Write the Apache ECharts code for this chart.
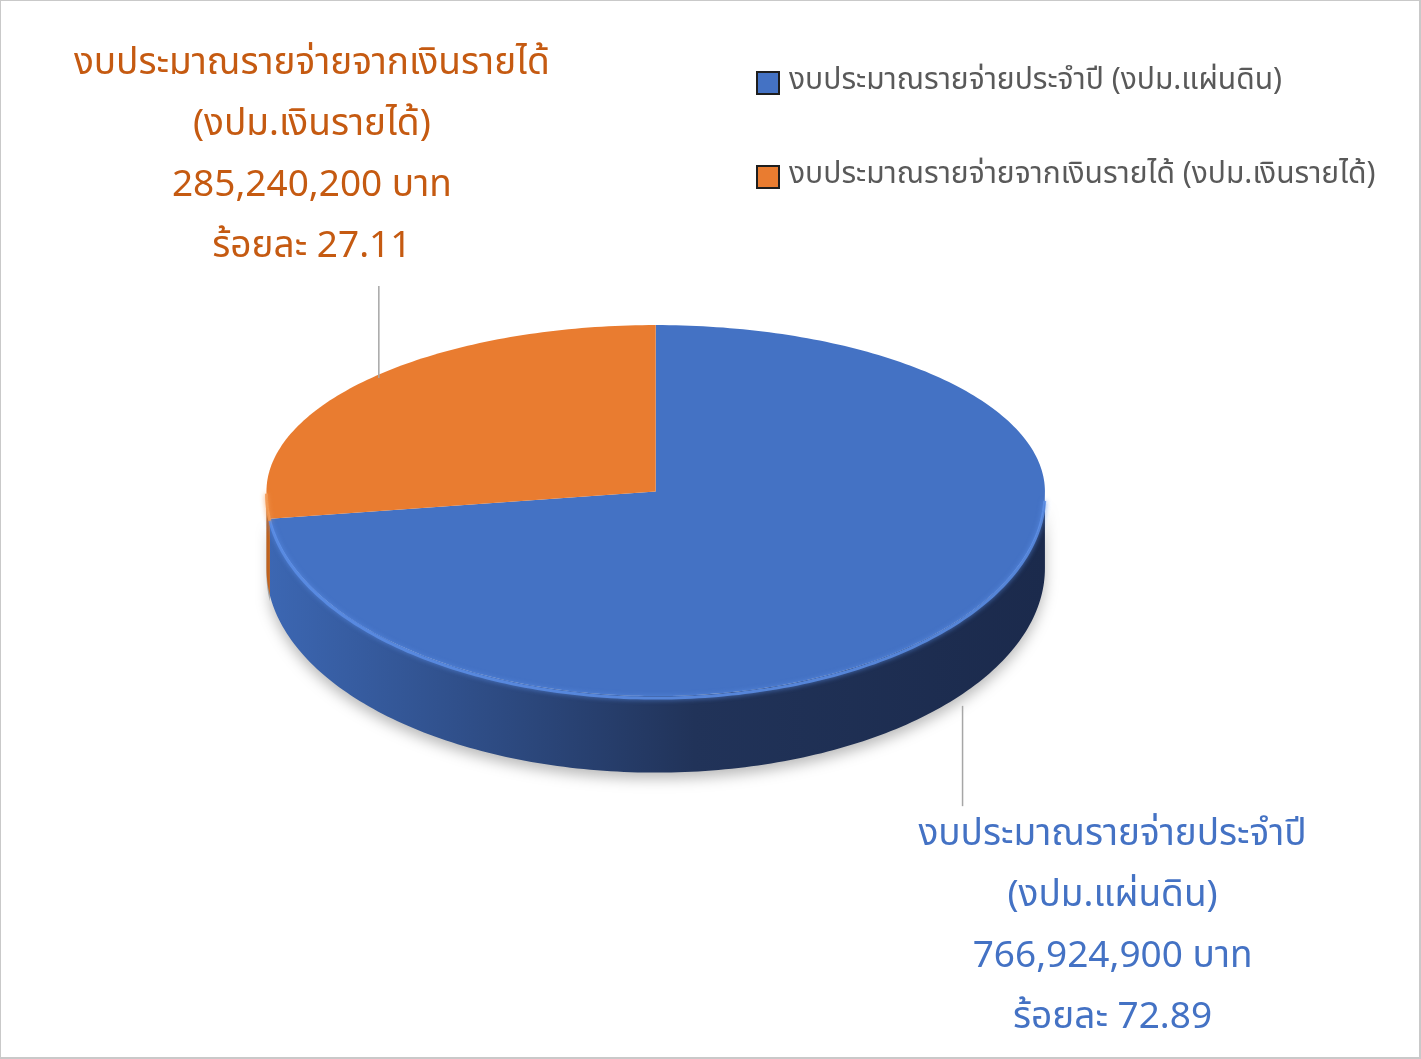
<!DOCTYPE html>
<html>
<head>
<meta charset="utf-8">
<script src="https://cdn.jsdelivr.net/npm/echarts@6/dist/echarts.min.js"></script>
<style>
html,body{margin:0;padding:0;background:#fff;}
#frame{width:1421px;height:1059px;box-sizing:border-box;border:1px solid #c9c9c9;border-right-width:2px;border-bottom-width:2px;}
#chart{width:100%;height:100%;}
</style>
</head>
<body>
<div id="frame"><div id="chart"></div></div>
<script>
// ---- data ----
const categories = ['งบประมาณรายจ่ายประจำปี (งปม.แผ่นดิน)', 'งบประมาณรายจ่ายจากเงินรายได้ (งปม.เงินรายได้)'];
const labelNames = ['งบประมาณรายจ่ายประจำปี\n(งปม.แผ่นดิน)', 'งบประมาณรายจ่ายจากเงินรายได้\n(งปม.เงินรายได้)'];
const values = [766924900, 285240200];
const percents = ['72.89', '27.11'];

// ---- style ----
const topColors = ['#4472C4', '#E97C30'];
const wallColors = [['#3C67B3', '#213359', '#1B2A4C'], ['#C0631F', '#A8561B', '#9A4E18']];
const labelColors = ['#4472C4', '#C55A11'];
const FONT = '"Noto Sans Thai", "Leelawadee UI", Tahoma, "Noto Sans", sans-serif';

const total = values.reduce((a, b) => a + b, 0);
function fmt(n) { return n.toString().replace(/\B(?=(\d{3})+(?!\d))/g, ','); }

function makeRender(k) {
  return function (params, api) {
    const W = api.getWidth(), H = api.getHeight();
    const cx = W * 0.4617, cy = H * 0.4646, rx = W * 0.2745;
    const ryT = H * 0.1577, ryB = H * 0.1936, depth = H * 0.0725;
    let before = 0;
    for (let i = 0; i < k; i++) before += values[i];
    const v = api.value(0);
    const a0 = -90 + 360 * before / total;
    const a1 = a0 + 360 * v / total;
    const P = (deg, dy) => {
      const r = deg * Math.PI / 180, s = Math.sin(r);
      return [cx + rx * Math.cos(r), cy + (s > 0 ? ryB : ryT) * s + (dy || 0)];
    };
    const arc = (from, to, dy) => {
      const pts = [];
      const n = Math.max(2, Math.ceil(Math.abs(to - from) / 1));
      for (let i = 0; i <= n; i++) pts.push(P(from + (to - from) * i / n, dy));
      return pts;
    };
    const children = [];
    // front wall (visible between 0 and 180 deg)
    const f0 = Math.max(a0, 0), f1 = Math.min(a1, 180);
    if (f1 > f0) {
      const wall = arc(f0, f1, 0).concat(arc(f1, f0, depth));
      children.push({
        type: 'polygon', z2: 1,
        shape: { points: wall },
        style: {
          fill: new echarts.graphic.LinearGradient(cx - rx, 0, cx + rx, 0, [
            { offset: 0, color: wallColors[k][0] },
            { offset: 0.55, color: wallColors[k][1] },
            { offset: 1, color: wallColors[k][2] }
          ], true),
          shadowBlur: k === 0 ? 14 : 0,
          shadowOffsetY: 6,
          shadowColor: 'rgba(0,0,0,0.28)'
        }
      });
      // bevel highlight on the front rim
      children.push({
        type: 'polyline', z2: 3,
        shape: { points: arc(Math.max(f0, 2), f1, 2) },
        style: { stroke: k === 0 ? '#5C8EE6' : '#F39A55', lineWidth: 3, fill: null, opacity: 0.85, shadowBlur: 5, shadowColor: k === 0 ? '#5C8EE6' : '#F39A55' }
      });
    }
    // top face
    children.push({
      type: 'polygon', z2: 2,
      shape: { points: [[cx, cy]].concat(arc(a0, a1, 0)) },
      style: { fill: topColors[k] }
    });
    // label with vertical leader line
    const mid = (a0 + a1) / 2;
    const m = P(mid, 0);
    const lines = [labelNames[k], fmt(values[k]) + ' บาท', 'ร้อยละ ' + percents[k]].join('\n');
    if (Math.sin(mid * Math.PI / 180) < 0) {
      const x = m[0] + 16, y0 = m[1] - 4, y1 = y0 - H * 0.087;
      children.push({ type: 'line', z2: 4, shape: { x1: x, y1: y0, x2: x, y2: y1 }, style: { stroke: '#A6A6A6', lineWidth: 1.5 } });
      children.push({
        type: 'text', z2: 5,
        style: { x: x - 67, y: y1 - 6, text: lines, fill: labelColors[k], font: '37px ' + FONT, lineHeight: 61, align: 'center', verticalAlign: 'bottom' }
      });
    } else {
      const x = m[0] + 14, y0 = m[1] + depth + 3, y1 = y0 + H * 0.095;
      children.push({ type: 'line', z2: 4, shape: { x1: x, y1: y0, x2: x, y2: y1 }, style: { stroke: '#A6A6A6', lineWidth: 1.5 } });
      children.push({
        type: 'text', z2: 5,
        style: { x: x + 150, y: y1 + 1, text: lines, fill: labelColors[k], font: '37px ' + FONT, lineHeight: 61, align: 'center', verticalAlign: 'top' }
      });
    }
    return { type: 'group', children: children };
  };
}

const chart = echarts.init(document.getElementById('chart'));
chart.setOption({
  animation: false,
  legend: {
    orient: 'vertical', left: 750, top: 60,
    itemWidth: 22, itemHeight: 22, itemGap: 60,
    icon: 'rect',
    itemStyle: { borderColor: '#1E1E1E', borderWidth: 2 },
    textStyle: { fontFamily: FONT, fontSize: 30, color: '#595959', lineHeight: 34, padding: [0, 0, 0, 5] },
    data: categories
  },
  series: categories.map((name, k) => ({
    type: 'custom', name: name, coordinateSystem: 'none',
    itemStyle: { color: topColors[k] },
    data: [values[k]],
    renderItem: makeRender(k),
    silent: true
  }))
});
</script>
</body>
</html>
